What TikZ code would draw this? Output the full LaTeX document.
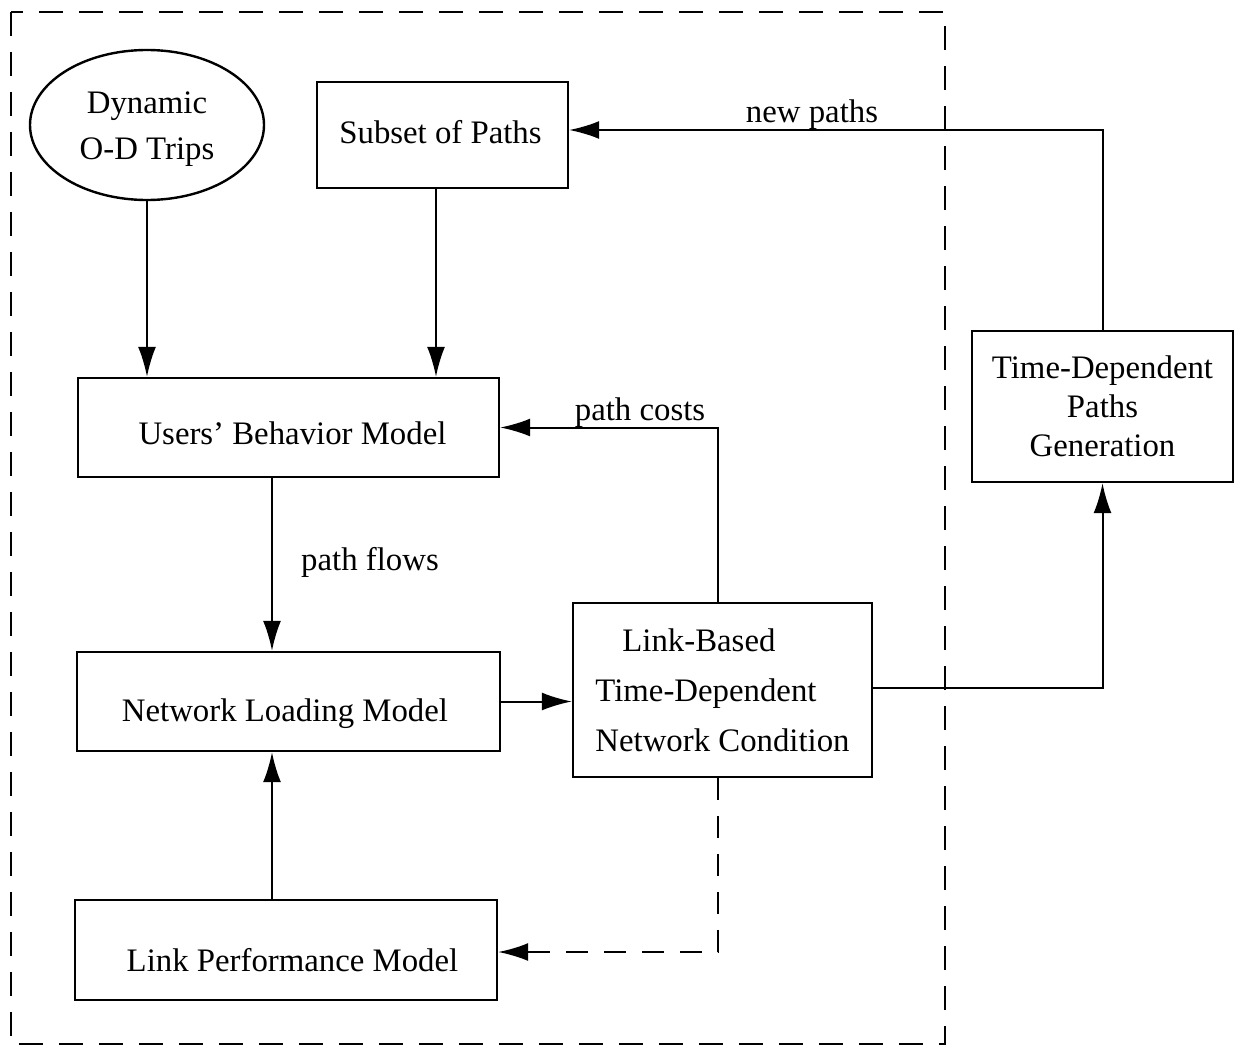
\documentclass[tikz,border=0pt]{standalone}
\usepackage{fontspec}
\setmainfont{Liberation Serif}
\usetikzlibrary{arrows.meta,calc,shapes.geometric}

% move a label inside its box: #1 = twice the horizontal offset, #2 = raise
\newcommand\nudge[3]{\kern#1\raisebox{#2}[\height][\depth]{#3}}

\begin{document}
\begin{tikzpicture}[x=0.5pt,y=-0.5pt,
  every node/.style={font=\fontsize{16.4}{20}\selectfont},
  blockbox/.style={draw,line width=1.2pt,inner sep=0pt,align=center},
  flow/.style={line width=1pt,-{Latex[length=15pt,width=9pt]}},
  feedback/.style={flow,dash pattern=on 11pt off 8pt},
  lbl/.style={inner sep=1pt}
]
\useasboundingbox (0,0) rectangle (1240,1048);

% outer dashed frame
\draw[line width=1pt,dash pattern=on 12pt off 8pt] (11,12) rectangle (945,1044);

% model blocks
\node[draw,ellipse,line width=1.2pt,inner sep=0pt,minimum width=117pt,minimum height=75pt,align=center,
  font=\fontsize{16.4}{23}\selectfont]
  (od) at (147,125) {\nudge{0pt}{-2pt}{Dynamic}\\\nudge{0pt}{-2pt}{O-D Trips}};
\node[blockbox,minimum width=125.5pt,minimum height=53pt] (subset) at (442.5,135)
  {\nudge{-2pt}{1.5pt}{Subset of Paths}};
\node[blockbox,minimum width=210.5pt,minimum height=49.5pt] (users) at (288.5,427.5)
  {\nudge{4pt}{-3pt}{Users' Behavior Model}};
\node[blockbox,minimum width=211.5pt,minimum height=49.5pt] (netload) at (288.5,701.5)
  {\nudge{-3.5pt}{-6pt}{Network Loading Model}};
\node[blockbox,minimum width=211pt,minimum height=50pt] (linkperf) at (286,950)
  {\nudge{6.5pt}{-5pt}{Link Performance Model}};
\node[blockbox,minimum width=149.5pt,minimum height=87pt,align=left,
  font=\fontsize{16.4}{25}\selectfont] (cond) at (722.5,690)
  {\hspace*{13.5pt}Link-Based\\Time-Dependent\\Network Condition};
\node[blockbox,minimum width=130.5pt,minimum height=75.5pt,
  font=\fontsize{16.4}{19.5}\selectfont] (tdpg) at (1102.5,406.5)
  {Time-Dependent\\Paths\\Generation};

% connector labels
\node[lbl] (pflows) at (370,562) {path flows};
\node[lbl] (pcosts) at (640,413) {path costs};
\node[lbl] (npaths) at (812,115) {new paths};

% connectors
\draw[flow] ($(subset.south)+(-6.5,0)$) -- ($(subset.south |- users.north)+(-6.5,0)$);
\draw[flow] (od.south) -- (od.south |- users.north);
\draw[flow] ($(users.south)+(-16.5,0)$) -- ($(users.south |- netload.north)+(-16.5,0)$);
\draw[flow] ($(linkperf.north)+(-14,0)$) -- ($(linkperf.north |- netload.south)+(-14,0)$);
\draw[flow] (netload.east) -- (netload.east -| cond.west);
\draw[flow] ($(cond.north)+(-4.5,0)$) |- (users.east);
\draw[flow] ($(cond.east)+(0,-2)$) -| (tdpg.south);
\draw[flow] (tdpg.north) |- ($(subset.east)+(0,-5)$);
\draw[feedback] ($(cond.south)+(-4.5,0)$) |- ($(linkperf.east)+(0,2)$);
\end{tikzpicture}
\end{document}
